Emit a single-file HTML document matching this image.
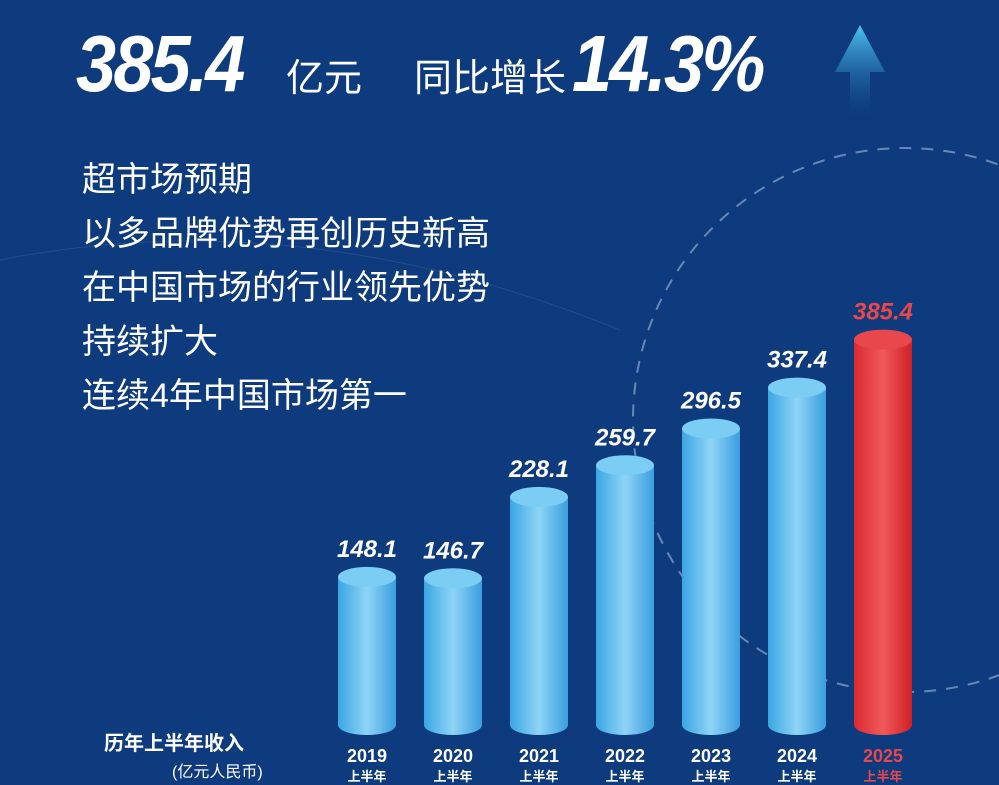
<!DOCTYPE html>
<html><head><meta charset="utf-8"><style>
body{margin:0;width:999px;height:785px;overflow:hidden;background:#0d3b7d;font-family:"Liberation Sans","Noto Sans CJK SC",sans-serif;color:#fff}
.h{position:absolute;top:18px;left:76px;white-space:nowrap}
.big{font-size:80px;font-weight:bold;font-style:italic;letter-spacing:-3px;display:inline-block;transform:scaleX(0.9);transform-origin:left}
.t{position:absolute;left:82px;font-size:34px;line-height:54px;top:153px}
</style></head><body>
<svg width="999" height="785" style="position:absolute;left:0;top:0">
<defs>
<linearGradient id="bl" x1="0" x2="1"><stop offset="0" stop-color="#3aa6e3"/><stop offset="0.5" stop-color="#8fd4f6"/><stop offset="1" stop-color="#3a9ede"/></linearGradient>
<linearGradient id="rd" x1="0" x2="1"><stop offset="0" stop-color="#d92a30"/><stop offset="0.5" stop-color="#f05a5a"/><stop offset="1" stop-color="#cf2026"/></linearGradient>
<linearGradient id="ar" x1="0" y1="0" x2="0" y2="1"><stop offset="0" stop-color="#4ec3f5"/><stop offset="1" stop-color="#0d3b7d" stop-opacity="0.2"/></linearGradient>
</defs>
<circle cx="905" cy="420" r="272" fill="none" stroke="#8fa8d0" stroke-width="2" stroke-dasharray="12 10" opacity="0.7"/>
<path d="M0 260 Q300 200 620 330" fill="none" stroke="#2d5a9a" stroke-width="1" opacity="0.6"/>
<polygon points="860,25 885,72 870,72 870,118 850,118 850,72 835,72" fill="url(#ar)"/>
<g id="bars"></g>
</svg>
<div class="h"><span class="big" style="width:215px">385.4</span><span style="font-size:38px;margin-left:-5px">亿元</span><span style="font-size:38px;margin-left:52px">同比增长</span><span class="big" style="margin-left:6px">14.3%</span></div>
<div class="t">超市场预期<br>以多品牌优势再创历史新高<br>在中国市场的行业领先优势<br>持续扩大<br>连续4年中国市场第一</div>
<div style="position:absolute;left:104px;top:727px;font-size:20px;font-weight:bold">历年上半年收入</div>
<div style="position:absolute;left:172px;top:758px;font-size:16px">(亿元人民币)</div>
<script>
const years=['2019','2020','2021','2022','2023','2024','2025'];
const values=[148.1,146.7,228.1,259.7,296.5,337.4,385.4];
const NS='http://www.w3.org/2000/svg';
const g=document.getElementById('bars');
const x=i=>367+i*86, y=v=>725-v*1.0;
const w=58, ry=10;
function mk(t,a){const e=document.createElementNS(NS,t);for(const k in a)e.setAttribute(k,a[k]);g.appendChild(e);return e;}
years.forEach((yr,i)=>{
 const last=i===years.length-1, cx=x(i), top=y(values[i]);
 const p=mk('path',{d:`M${cx-w/2} ${top} L${cx-w/2} 725 A${w/2} ${ry} 0 0 0 ${cx+w/2} 725 L${cx+w/2} ${top} Z`,fill:last?'url(#rd)':'url(#bl)'});
 
 
 const c=mk('ellipse',{cx:cx,cy:top,rx:w/2,ry:ry,fill:last?'#e8474b':'#7ccdf3'});
 
 
 const l=mk('text',{x:cx,y:top-20,'text-anchor':'middle','font-size':'24','font-weight':'bold','font-style':'italic',fill:last?'#e8474b':'#fff','font-family':'Liberation Sans'});
 l.textContent=values[i].toFixed(1);
 
 
 const a=mk('text',{x:cx,y:762,'text-anchor':'middle','font-size':'18','font-weight':'bold',fill:last?'#e8474b':'#fff','font-family':'Liberation Sans'});
 a.textContent=yr;
 
 
 const b=mk('text',{x:cx,y:781,'text-anchor':'middle','font-size':'13','font-weight':'bold',fill:last?'#e8474b':'#fff','font-family':'Noto Sans CJK SC, sans-serif'});
 b.textContent='上半年';
 
 
});
</script>
</body></html>
